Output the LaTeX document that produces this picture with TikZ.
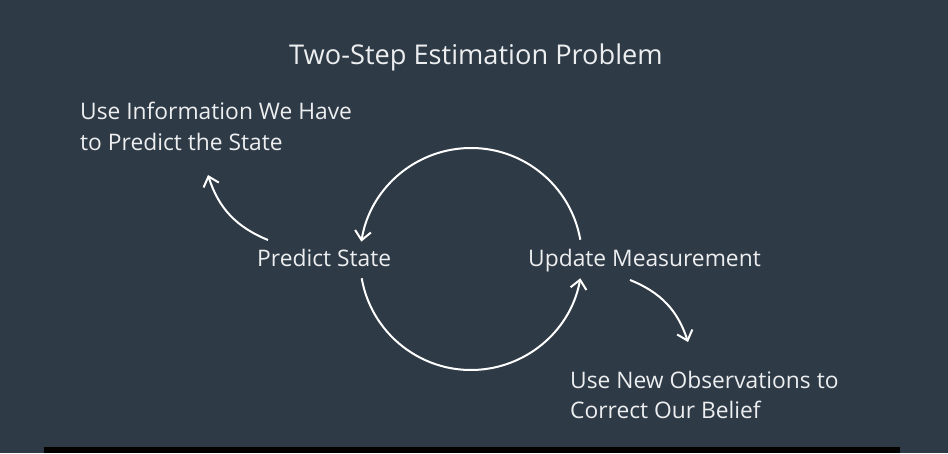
\documentclass[tikz,border=0pt]{standalone}
\usepackage{fontspec}
\setmainfont{Open Sans}
\usetikzlibrary{arrows.meta}
\definecolor{bgc}{RGB}{46,58,70}
\definecolor{txt}{RGB}{236,238,240}
\tikzset{
  lbl/.style={text=txt, inner sep=0pt, font=\fontsize{22.8}{31}\selectfont, anchor=base west},
  ttl/.style={text=txt, inner sep=0pt, font=\fontsize{27.2}{30}\selectfont, anchor=base},
  cyc/.style={draw=white, line width=2pt, -{Straight Barb[length=9pt,width=16pt,line width=2pt]}},
}
\begin{document}
\begin{tikzpicture}[x=1pt,y=1pt]
\fill[bgc] (0,0) rectangle (948,453);
\useasboundingbox (0,0) rectangle (948,453);
\fill[black] (44,0) rectangle (900,6);
\node[ttl] (title) at (476,388) {Two-Step Estimation Problem};
\node[lbl] (use1a) at (80,333) {Use Information We Have};
\node[lbl] (use1b) at (80,302) {to Predict the State};
\node[lbl] (pred) at (257,186.5) {Predict State};
\node[lbl] (upd) at (528,186.5) {Update Measurement};
\node[lbl] (use2a) at (570,65) {Use New Observations to};
\node[lbl] (use2b) at (570,35) {Correct Our Belief};
\coordinate (c) at (471,194);
\draw[cyc] (c) ++(10:111) arc[start angle=10, end angle=171, radius=111];
\draw[cyc] (c) ++(190:111) arc[start angle=190, end angle=350, radius=111];
\coordinate (p1) at (268,213);
\coordinate (p2) at (208,278);
\coordinate (u1) at (630,173);
\coordinate (u2) at (688,111);
\draw[cyc] (p1) to[bend left=25] (p2);
\draw[cyc] (u1) to[bend left=25] (u2);
\end{tikzpicture}
\end{document}
